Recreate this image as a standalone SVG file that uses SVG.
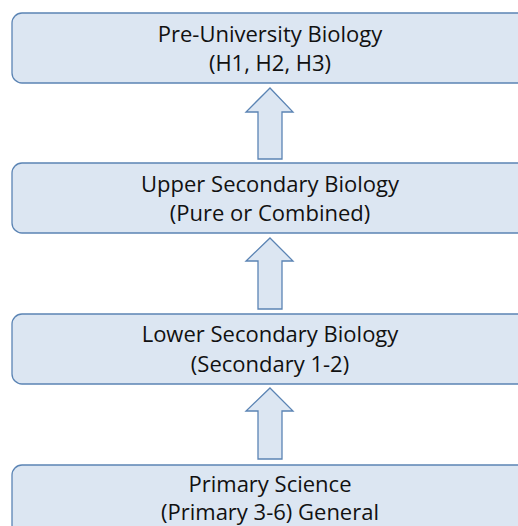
<svg xmlns="http://www.w3.org/2000/svg" width="518" height="526" viewBox="0 0 518 526">
<style>
.box{fill:#DCE6F2;stroke:#5B84B4;stroke-width:1.3}
.arr{fill:#DCE6F2;stroke:#5B84B4;stroke-width:1.3;stroke-linejoin:miter}
.t{font-family:"Open Sans","Liberation Sans",sans-serif;font-size:22px;fill:#111;text-anchor:middle}
</style>
<rect width="518" height="526" fill="#fff"/>
<g id="connectors">
<polygon class="arr" points="270,88 293,112 282,112 282,159 258,159 258,112 246,112"/>
<polygon class="arr" points="270,238 293,261 282,261 282,309 258,309 258,261 246,261"/>
<polygon class="arr" points="270,388 293,411 282,411 282,459 258,459 258,411 246,411"/>
</g>
<g id="node-preu">
<rect class="box" x="12" y="13" width="516" height="70" rx="10"/>
<text class="t" x="270" y="42">Pre-University Biology</text>
<text class="t" x="270" y="71">(H1, H2, H3)</text>
</g>
<g id="node-upper">
<rect class="box" x="12" y="163" width="516" height="70" rx="10"/>
<text class="t" x="270" y="192">Upper Secondary Biology</text>
<text class="t" x="270" y="221">(Pure or Combined)</text>
</g>
<g id="node-lower">
<rect class="box" x="12" y="314" width="516" height="70" rx="10"/>
<text class="t" x="270" y="342">Lower Secondary Biology</text>
<text class="t" x="270" y="372">(Secondary 1-2)</text>
</g>
<g id="node-primary">
<rect class="box" x="12" y="465" width="516" height="70" rx="10"/>
<text class="t" x="270" y="492">Primary Science</text>
<text class="t" x="270" y="520">(Primary 3-6) General</text>
</g>
</svg>
